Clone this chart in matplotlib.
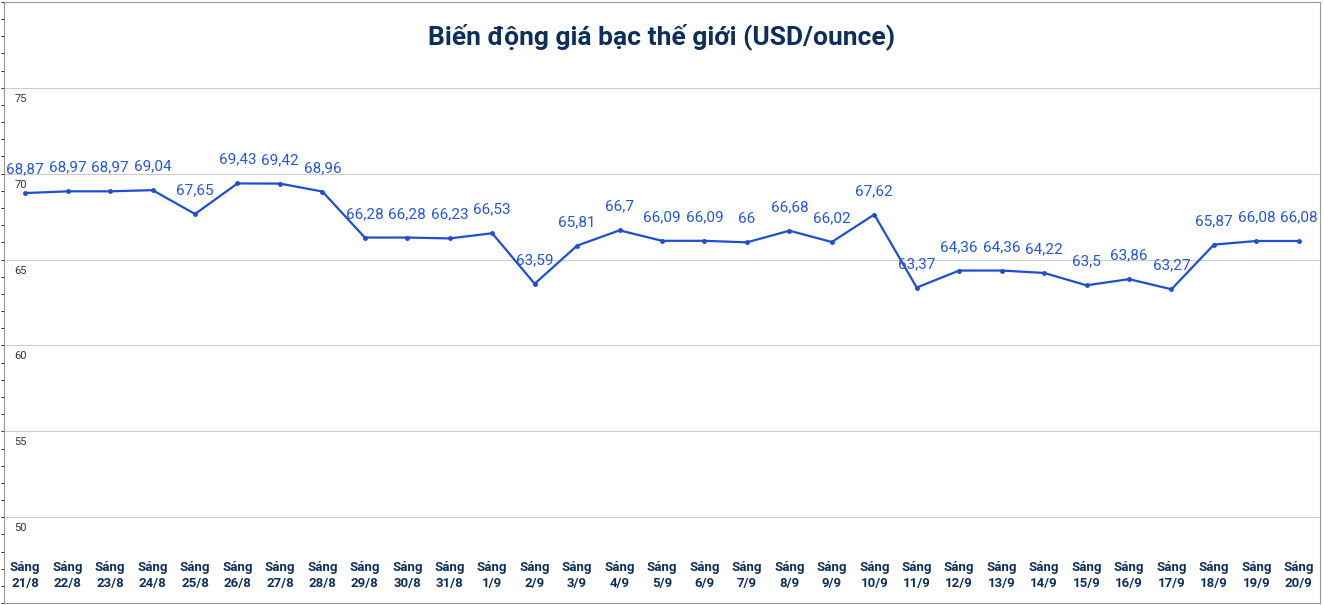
import matplotlib
matplotlib.use('Agg')
import matplotlib.pyplot as plt

plt.rcParams['font.family'] = ['Roboto', 'DejaVu Sans']

# Data
dates = ['21/8', '22/8', '23/8', '24/8', '25/8', '26/8', '27/8', '28/8', '29/8', '30/8',
         '31/8', '1/9', '2/9', '3/9', '4/9', '5/9', '6/9', '7/9', '8/9', '9/9', '10/9',
         '11/9', '12/9', '13/9', '14/9', '15/9', '16/9', '17/9', '18/9', '19/9', '20/9']
prices = [68.87, 68.97, 68.97, 69.04, 67.65, 69.43, 69.42, 68.96, 66.28, 66.28,
          66.23, 66.53, 63.59, 65.81, 66.7, 66.09, 66.09, 66.0, 66.68, 66.02, 67.62,
          63.37, 64.36, 64.36, 64.22, 63.5, 63.86, 63.27, 65.87, 66.08, 66.08]
yticks = [50, 55, 60, 65, 70, 75]

line_color = '#1f4fd1'
label_color = '#2457d6'
navy = '#0d2f5c'

fig = plt.figure(figsize=(13.24, 6.05), dpi=100)
ax = fig.add_axes([0.003, 0.003, 0.994, 0.994])
x = list(range(len(prices)))

ax.set_xlim(-0.5, len(prices) - 0.5)
ax.set_ylim(45, 80)
for v in yticks:
    ax.axhline(v, color='#cccccc', lw=0.8, zorder=0)
    ax.text(0.008, v - 0.35, str(v), transform=ax.get_yaxis_transform(),
            ha='left', va='top', fontsize=8, color='#333333')

ax.plot(x, prices, color=line_color, lw=1.6, marker='o', ms=2.5, zorder=3)
for xi, p in zip(x, prices):
    txt = ('%g' % p).replace('.', ',')
    ax.annotate(txt, (xi, p), xytext=(0, 12), textcoords='offset points',
                ha='center', va='bottom', fontsize=11, color=label_color)

for xi, d in zip(x, dates):
    ax.text(xi, 46.6, 'Sáng\n' + d, ha='center', va='center', fontsize=9.5,
            fontweight='bold', color=navy, linespacing=1.3)

ax.set_xticks([])
ax.set_yticks([])
ax.yaxis.set_minor_locator(matplotlib.ticker.MultipleLocator(1))
for s in ax.spines.values():
    s.set_color('#999999')

fig.text(0.5, 0.94, 'Biến động giá bạc thế giới (USD/ounce)', ha='center', va='center',
         fontsize=19, fontweight='bold', color=navy)

fig.savefig('out.png', dpi=100)
